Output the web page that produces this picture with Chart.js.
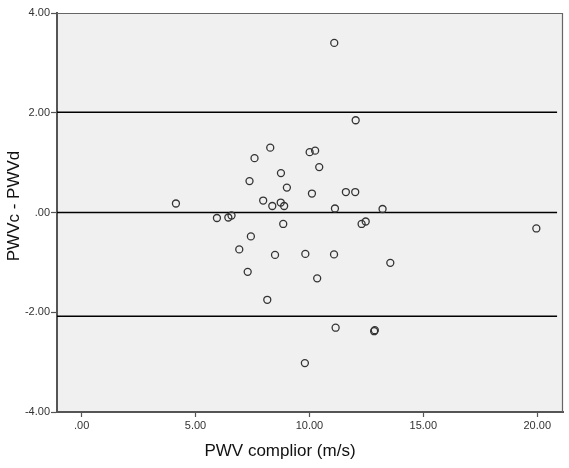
<!DOCTYPE html>
<html lang="en">
<head>
  <meta charset="UTF-8" />
  <title>PWVc - PWVd vs PWV complior</title>
  <script src="https://cdn.jsdelivr.net/npm/chart.js"></script>
  <style>
    body { margin:0; background:#fff; }
    #wrap { width:569px; height:468px; }
  </style>
</head>
<body>
  <div id="wrap"><canvas id="blandAltman" width="569" height="468"></canvas></div>

  <script>
    // PWV complior (m/s) と差 PWVc - PWVd
    const pwvComplior = [
      11.09, 12.03, 8.28, 10.01, 10.25, 7.59, 10.43, 8.75, 7.37, 9.01,
      10.11, 11.60, 12.01, 7.97, 8.74, 8.37, 8.89, 11.12, 13.21, 4.14,
      5.94, 6.44, 6.58, 8.85, 12.29, 12.47, 19.96, 7.43, 6.92, 8.49,
      9.82, 11.08, 13.55, 7.29, 10.34, 8.15, 11.15, 12.84, 12.87, 9.80
    ];
    const pwvDiff = [
      3.40, 1.85, 1.30, 1.21, 1.24, 1.09, 0.91, 0.79, 0.63, 0.50,
      0.38, 0.41, 0.41, 0.24, 0.20, 0.13, 0.13, 0.08, 0.07, 0.18,
      -0.11, -0.10, -0.06, -0.23, -0.23, -0.18, -0.32, -0.48, -0.74, -0.85,
      -0.83, -0.84, -1.01, -1.19, -1.32, -1.75, -2.31, -2.38, -2.36, -3.02
    ];
    const meanDiff = 0.00;
    const upperLimit = 2.01;
    const lowerLimit = -2.08;
    const lineRange = [-1.08, 20.87];
    const xTicks = [0, 5, 10, 15, 20];
    const yTicks = [-4, -2, 0, 2, 4];
    const xTitle = "PWV complior (m/s)";
    const yTitle = "PWVc - PWVd";

    const points = pwvComplior.map((x, i) => ({ x: x, y: pwvDiff[i] }));
    const hLine = v => lineRange.map(x => ({ x: x, y: v }));

    // SPSS風の表示 (.00, -2.00)
    const spssFmt = v => v.toFixed(2).replace(/^(-?)0\./, "$1.");

    const lineStyle = { type:'line', borderColor:'#000', borderWidth:1.5, pointRadius:0, fill:false, order:2 };

    const frame = {
      id: 'frame',
      beforeDraw(chart) {
        const { ctx, chartArea: a } = chart;
        ctx.save();
        ctx.fillStyle = '#f0f0f0';
        ctx.fillRect(a.left, a.top, a.right - a.left, a.bottom - a.top);
        ctx.restore();
      },
      afterDraw(chart) {
        const { ctx, chartArea: a } = chart;
        ctx.save();
        ctx.strokeStyle = '#666';
        ctx.lineWidth = 1.2;
        ctx.beginPath();
        ctx.moveTo(a.left, a.top + 0.5);
        ctx.lineTo(a.right - 0.5, a.top + 0.5);
        ctx.lineTo(a.right - 0.5, a.bottom);
        ctx.stroke();
        // 軸タイトル
        ctx.fillStyle = '#111';
        ctx.font = '17px "Liberation Sans", Arial, sans-serif';
        ctx.textAlign = 'center';
        ctx.textBaseline = 'middle';
        ctx.fillText(xTitle, 280, 451);
        ctx.translate(14, 206);
        ctx.rotate(-Math.PI / 2);
        ctx.fillText(yTitle, 0, 0);
        ctx.restore();
      }
    };

    const tickFont = { family:'"Liberation Sans", Arial, sans-serif', size:11 };

    new Chart(document.getElementById("blandAltman"), {
      type: 'scatter',
      data: {
        datasets: [
          { data: points, pointRadius:3.5, pointBorderWidth:1.3, borderColor:'#333',
            backgroundColor:'rgba(0,0,0,0)', pointHoverRadius:3.5, order:1 },
          Object.assign({ data: hLine(upperLimit) }, lineStyle),
          Object.assign({ data: hLine(meanDiff) }, lineStyle),
          Object.assign({ data: hLine(lowerLimit) }, lineStyle)
        ]
      },
      options: {
        responsive: false,
        animation: false,
        layout: { padding: { top:13, right:6, left:0, bottom:0 } },
        plugins: { legend:{ display:false }, tooltip:{ enabled:false } },
        scales: {
          x: {
            type: 'linear', min: -1.08, max: 21.13,
            afterBuildTicks: s => { s.ticks = xTicks.map(v => ({ value: v })); },
            afterFit: s => { s.height = 56; },
            ticks: { callback: spssFmt, color:'#333', font: tickFont, padding:2, maxRotation:0 },
            grid: { drawOnChartArea:false, drawTicks:true, tickLength:5, tickColor:'#555', tickWidth:1.2 },
            border: { color:'#555', width:2 }
          },
          y: {
            type: 'linear', min: -4, max: 4,
            afterBuildTicks: s => { s.ticks = yTicks.map(v => ({ value: v })); },
            afterFit: s => { s.width = 57; },
            ticks: { callback: spssFmt, color:'#333', font: tickFont, padding:1 },
            grid: { drawOnChartArea:false, drawTicks:true, tickLength:6, tickColor:'#555', tickWidth:1.2 },
            border: { color:'#555', width:2 }
          }
        }
      },
      plugins: [frame]
    });
  </script>
</body>
</html>
